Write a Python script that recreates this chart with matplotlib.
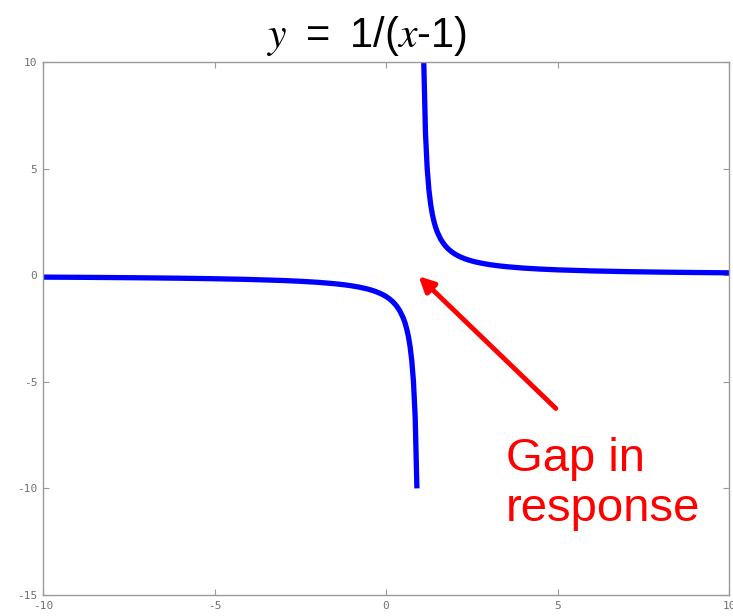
import matplotlib
matplotlib.use("Agg")
import matplotlib.pyplot as plt
import matplotlib.patheffects as pe

# y = 1/(x-1), sampled on each side of the pole at x = 1
x_left = [-10, -9, -8, -7, -6, -5, -4, -3, -2.5, -2, -1.5, -1.2, -1, -0.8, -0.6, -0.5,
          -0.4, -0.3, -0.2, -0.1, 0, 0.1, 0.2, 0.3, 0.4, 0.5, 0.55, 0.6, 0.65, 0.7,
          0.75, 0.8, 0.85, 0.9]
y_left = [-0.0909, -0.1, -0.1111, -0.125, -0.1429, -0.1667, -0.2, -0.25, -0.2857,
          -0.3333, -0.4, -0.4545, -0.5, -0.5556, -0.625, -0.6667, -0.7143, -0.7692,
          -0.8333, -0.9091, -1.0, -1.1111, -1.25, -1.4286, -1.6667, -2.0, -2.2222,
          -2.5, -2.8571, -3.3333, -4.0, -5.0, -6.6667, -10.0]
x_right = [1.1, 1.15, 1.2, 1.25, 1.3, 1.35, 1.4, 1.45, 1.5, 1.6, 1.7, 1.8, 1.9, 2.0,
           2.1, 2.2, 2.3, 2.4, 2.5, 2.6, 2.8, 3.0, 3.2, 3.5, 4.0, 4.5, 5.0, 6.0, 7.0,
           8.0, 9.0, 10.0]
y_right = [10.0, 6.6667, 5.0, 4.0, 3.3333, 2.8571, 2.5, 2.2222, 2.0, 1.6667, 1.4286,
           1.25, 1.1111, 1.0, 0.9091, 0.8333, 0.7692, 0.7143, 0.6667, 0.625, 0.5556,
           0.5, 0.4545, 0.4, 0.3333, 0.2857, 0.25, 0.2, 0.1667, 0.1429, 0.125, 0.1111]

x_ticks = [-10, -5, 0, 5, 10]
y_ticks = [-15, -10, -5, 0, 5, 10]

gap_tip = (0.95, -0.05)
gap_tail = (4.95, -6.25)

fig = plt.figure(figsize=(7.33, 6.16), dpi=100)
ax = fig.add_axes([0.0587, 0.0341, 0.9359, 0.8653])

ax.plot(x_left, y_left, color="#0000ff", lw=3.8, solid_capstyle="butt")
ax.plot(x_right, y_right, color="#0000ff", lw=3.8, solid_capstyle="butt")

ax.set_xlim(-10, 10)
ax.set_ylim(-15, 10)
ax.set_xticks(x_ticks)
ax.set_yticks(y_ticks)
ax.set_xticklabels([str(v) for v in x_ticks])
ax.set_yticklabels([str(v) for v in y_ticks])
ax.tick_params(direction="in", length=4, width=0.8, color="#9a9a9a",
               top=True, right=True, labelsize=8, labelcolor="#707070", pad=4)
for lab in ax.get_xticklabels() + ax.get_yticklabels():
    lab.set_family("DejaVu Sans Mono")
for sp in ax.spines.values():
    sp.set_color("#9a9a9a")
    sp.set_linewidth(1.0)

# title with italic math variables
plt.rcParams["mathtext.fontset"] = "stix"
fig.text(0.500, 0.9237, r"$y\;$ = $\;$1/($x$-1)", ha="center", va="baseline",
         fontsize=30, family="Liberation Sans", color="black")

ax.annotate("", xy=gap_tip, xytext=gap_tail,
            arrowprops=dict(arrowstyle="-|>,head_length=0.9,head_width=0.45",
                            color="#ff0000", lw=3.5, shrinkA=0, shrinkB=0,
                            path_effects=[pe.SimplePatchShadow(offset=(1.5, -1.5), alpha=0.25),
                                          pe.Normal()]))

ax.text(3.5, -7.6, "Gap in\nresponse", color="#ff0000", fontsize=34,
        family="Liberation Sans", ha="left", va="top", linespacing=1.18)

fig.savefig("out.png", dpi=100)
